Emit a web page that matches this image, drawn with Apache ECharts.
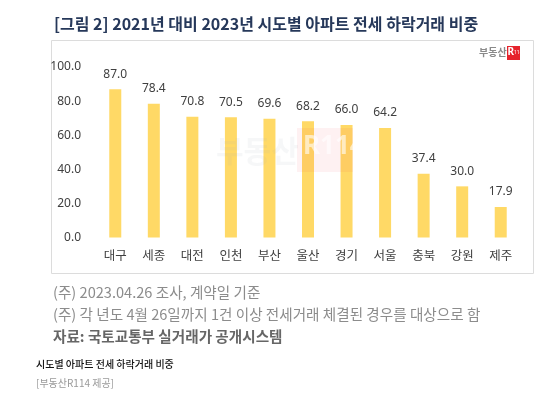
<!DOCTYPE html>
<html>
<head>
<meta charset="utf-8">
<script src="https://cdn.jsdelivr.net/npm/echarts@6/dist/echarts.min.js"></script>
<style>
html,body{margin:0;padding:0;background:#fff;}
#chart{width:556px;height:395px;}
</style>
</head>
<body>
<div id="chart"></div>
<script>
const categories = ['대구','세종','대전','인천','부산','울산','경기','서울','충북','강원','제주'];
const values = [87.0, 78.4, 70.8, 70.5, 69.6, 68.2, 66.0, 64.2, 37.4, 30.0, 17.9];
const yTicks = [0, 20, 40, 60, 80, 100];
const titleText = '[그림 2] 2021년 대비 2023년 시도별 아파트 전세 하락거래 비중';
const notes = ['(주) 2023.04.26 조사, 계약일 기준', '(주) 각 년도 4월 26일까지 1건 이상 전세거래 체결된 경우를 대상으로 함'];
const sourceText = '자료: 국토교통부 실거래가 공개시스템';
const captionText = '시도별 아파트 전세 하락거래 비중';
const creditText = '[부동산R114 제공]';

const FONT = "'Noto Sans', 'Noto Sans CJK KR', sans-serif";
const KFONT = "'Noto Sans CJK KR', sans-serif";

const chart = echarts.init(document.getElementById('chart'), null, {renderer: 'canvas'});
chart.setOption({
  backgroundColor: '#ffffff',
  animation: false,
  title: {
    text: titleText,
    left: 49, top: 11,
    textStyle: {fontFamily: KFONT, fontSize: 16, fontWeight: 'bold', color: '#26385a'}
  },
  grid: {left: 96, right: 36, top: 67, bottom: 157.5, containLabel: false},
  xAxis: {
    type: 'category',
    data: categories,
    axisLine: {show: false},
    axisTick: {show: false},
    axisLabel: {margin: 11, fontFamily: KFONT, fontSize: 12.5, color: '#404040'}
  },
  yAxis: {
    type: 'value',
    min: yTicks[0], max: yTicks[yTicks.length - 1], interval: 20,
    splitLine: {show: false},
    axisLine: {show: false},
    axisTick: {show: false},
    axisLabel: {margin: 15, fontFamily: FONT, fontSize: 12, color: '#404040',
      formatter: v => v.toFixed(1)}
  },
  series: [{
    type: 'bar',
    data: values,
    barWidth: 12,
    itemStyle: {color: '#FFD966'},
    label: {show: true, position: 'top', distance: 9, fontFamily: FONT, fontSize: 12, color: '#404040',
      formatter: p => p.value.toFixed(1)}
  }],
  graphic: [
    {type: 'rect', z: -10, shape: {x: 51.5, y: 40.5, width: 482, height: 233},
      style: {fill: '#fff', stroke: '#dcdcdc', lineWidth: 1}},
    // watermark
    {type: 'text', z: 10, left: 216, top: 136,
      style: {text: '부동산', font: "bold 30px 'Noto Sans CJK KR'", fill: 'rgba(170,175,190,0.10)'}},
    {type: 'rect', z: 10, shape: {x: 297, y: 128, width: 56, height: 44},
      style: {fill: 'rgba(235,60,70,0.07)'}},
    {type: 'text', z: 10, left: 303, top: 134,
      style: {text: 'R114', font: "bold 26px 'Noto Sans'", fill: 'rgba(255,255,255,0.6)'}},
    // logo
    {type: 'text', z: 10, left: 479, top: 47,
      style: {text: '부동산', font: "bold 10px 'Noto Sans CJK KR'", fill: '#8a8a8a'}},
    {type: 'rect', z: 10, shape: {x: 507, y: 46, width: 13, height: 14},
      style: {fill: '#e6232c'}},
    {type: 'text', z: 11, left: 507.5, top: 47,
      style: {text: 'R', font: "bold 10px 'Noto Sans'", fill: '#ffffff'}},
    {type: 'text', z: 11, left: 514, top: 50,
      style: {text: '114', font: "5px 'Noto Sans'", fill: '#ffffff'}},
    // notes
    {type: 'text', left: 53, top: 285,
      style: {text: notes[0], font: "14.6px 'Noto Sans CJK KR'", fill: '#8c8c8c'}},
    {type: 'text', left: 53, top: 307,
      style: {text: notes[1], font: "14.6px 'Noto Sans CJK KR'", fill: '#8c8c8c'}},
    {type: 'text', left: 53, top: 329,
      style: {text: sourceText, font: "bold 14.6px 'Noto Sans CJK KR'", fill: '#666666'}},
    {type: 'text', left: 36, top: 359,
      style: {text: captionText, font: "500 10px 'Noto Sans CJK KR'", fill: '#111111'}},
    {type: 'text', left: 36, top: 378,
      style: {text: creditText, font: "10px 'Noto Sans CJK KR'", fill: '#9a9a9a'}}
  ]
});
</script>
</body>
</html>
